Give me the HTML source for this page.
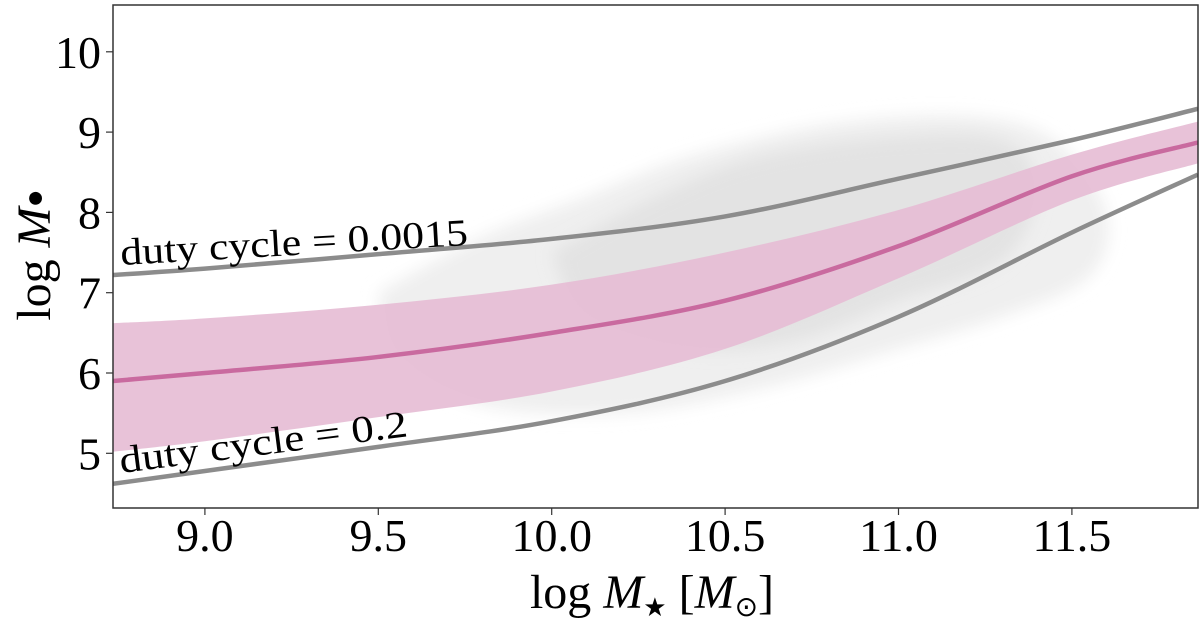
<!DOCTYPE html>
<html><head><meta charset="utf-8"><style>
html,body{margin:0;padding:0;background:#fff;}
svg{display:block;font-family:"Liberation Serif",serif;}
</style></head><body>
<svg id="chart" width="1200" height="620" viewBox="0 0 1200 620" xmlns="http://www.w3.org/2000/svg">
<defs>
<filter id="blur" x="-20%" y="-20%" width="140%" height="140%"><feGaussianBlur stdDeviation="8"/></filter>
<clipPath id="clip"><rect x="113" y="5" width="1085" height="503"/></clipPath>
</defs>
<g id="plot" clip-path="url(#clip)"></g>
<rect x="113" y="5" width="1085" height="503" fill="none" stroke="#333" stroke-width="1.5"/>
<g id="axes"></g>
<text x="652" y="608" font-size="48" text-anchor="middle">log <tspan font-style="italic">M</tspan><tspan font-size="26" dy="8">★</tspan><tspan dy="-8"> [</tspan><tspan font-style="italic">M</tspan><tspan font-size="28" dy="8">⊙</tspan><tspan dy="-8">]</tspan></text>
<text transform="translate(50,255) rotate(-90)" font-size="48" text-anchor="middle">log <tspan font-style="italic">M</tspan><tspan font-size="30" dy="-6">●</tspan></text>
</svg>
<script>
const xGrid = [8.735, 9.0, 9.5, 10.0, 10.5, 11.0, 11.5, 11.863];
const upperDuty = [7.22, 7.3, 7.48, 7.67, 7.95, 8.42, 8.9, 9.29];
const lowerDuty = [4.62, 4.78, 5.08, 5.4, 5.9, 6.7, 7.75, 8.47];
const median = [5.9, 6.0, 6.2, 6.5, 6.9, 7.58, 8.45, 8.87];
const bandHigh = [6.62, 6.68, 6.85, 7.1, 7.5, 8.03, 8.72, 9.13];
const bandLow = [5.02, 5.15, 5.45, 5.77, 6.3, 7.18, 8.15, 8.61];
const sparseX = [9.5, 9.8, 10.1, 10.4, 10.8, 11.2, 11.45, 11.6, 11.55, 11.3, 11.0, 10.6, 10.2, 9.8, 9.55];
const sparseY = [7.0, 7.7, 8.2, 8.7, 9.1, 9.2, 8.9, 8.0, 7.2, 6.7, 6.3, 5.8, 5.5, 5.6, 6.2];
const coreX = [10.0, 10.3, 10.6, 11.0, 11.3, 11.4, 11.3, 11.0, 10.7, 10.4, 10.1];
const coreY = [7.5, 8.2, 8.7, 8.95, 8.9, 8.3, 7.4, 6.9, 6.4, 6.3, 6.7];
const xTicks = [9.0, 9.5, 10.0, 10.5, 11.0, 11.5];
const xTickLabels = ["9.0", "9.5", "10.0", "10.5", "11.0", "11.5"];
const yTicks = [5, 6, 7, 8, 9, 10];
const yTickLabels = ["5", "6", "7", "8", "9", "10"];

const NS = "http://www.w3.org/2000/svg";
const X = v => 113 + (v - 8.735) * 346.8;
const Y = v => 453.3 - (v - 5) * 80.3;
function mk(tag, attrs, parent) { const e = document.createElementNS(NS, tag); for (const k in attrs) e.setAttribute(k, attrs[k]); parent.appendChild(e); return e; }
function smooth(xs, ys) {
  const p = xs.map((x, i) => [X(x), Y(ys[i])]);
  let d = `M${p[0][0]},${p[0][1]}`;
  for (let i = 0; i < p.length - 1; i++) {
    const p0 = p[Math.max(0, i - 1)], p1 = p[i], p2 = p[i + 1], p3 = p[Math.min(p.length - 1, i + 2)];
    const c1 = [p1[0] + (p2[0] - p0[0]) / 6, p1[1] + (p2[1] - p0[1]) / 6];
    const c2 = [p2[0] - (p3[0] - p1[0]) / 6, p2[1] - (p3[1] - p1[1]) / 6];
    d += ` C${c1[0]},${c1[1]} ${c2[0]},${c2[1]} ${p2[0]},${p2[1]}`;
  }
  return d;
}
const plot = document.getElementById('plot');
const axes = document.getElementById('axes');

const cloud = mk('path', { d: smooth(sparseX.concat([sparseX[0]]), sparseY.concat([sparseY[0]])) + 'Z', fill: '#efefef', filter: 'url(#blur)' }, plot);



const core = mk('path', { d: smooth(coreX.concat([coreX[0]]), coreY.concat([coreY[0]])) + 'Z', fill: '#e3e3e3', filter: 'url(#blur)' }, plot);



const bandD = smooth(xGrid, bandHigh) + ' L' + smooth(xGrid.slice().reverse(), bandLow.slice().reverse()).slice(1) + 'Z';
const band = mk('path', { d: bandD, fill: '#e6bdd5', 'fill-opacity': 0.92 }, plot);



const med = mk('path', { d: smooth(xGrid, median), fill: 'none', stroke: '#c96a9f', 'stroke-width': 4.5 }, plot);



const up = mk('path', { d: smooth(xGrid, upperDuty), fill: 'none', stroke: '#8c8c8c', 'stroke-width': 4.5 }, plot);



const lo = mk('path', { d: smooth(xGrid, lowerDuty), fill: 'none', stroke: '#8c8c8c', 'stroke-width': 4.5 }, plot);



const l1 = mk('text', { x: 0, y: 0, 'font-size': 38, textLength: 348, lengthAdjust: 'spacingAndGlyphs', transform: 'translate(121,265) rotate(-3.3)' }, plot);
l1.textContent = 'duty  cycle  =  0.0015';



const l2 = mk('text', { x: 0, y: 0, 'font-size': 38, textLength: 290, lengthAdjust: 'spacingAndGlyphs', transform: 'translate(121,473) rotate(-7.3)' }, plot);
l2.textContent = 'duty  cycle  =  0.2';



xTicks.forEach((v, i) => {
  const t = mk('line', { x1: X(v), x2: X(v), y1: 508, y2: 515, stroke: '#333', 'stroke-width': 1.2 }, axes);
  
  
  const l = mk('text', { x: X(v), y: 551, 'font-size': 46, 'text-anchor': 'middle' }, axes);
  l.textContent = xTickLabels[i];
  
  
});
yTicks.forEach((v, i) => {
  const t = mk('line', { x1: 106, x2: 113, y1: Y(v), y2: Y(v), stroke: '#333', 'stroke-width': 1.2 }, axes);
  
  
  const l = mk('text', { x: 101, y: Y(v) + 16, 'font-size': 46, 'text-anchor': 'end' }, axes);
  l.textContent = yTickLabels[i];
  
  
});
</script>
</body></html>
